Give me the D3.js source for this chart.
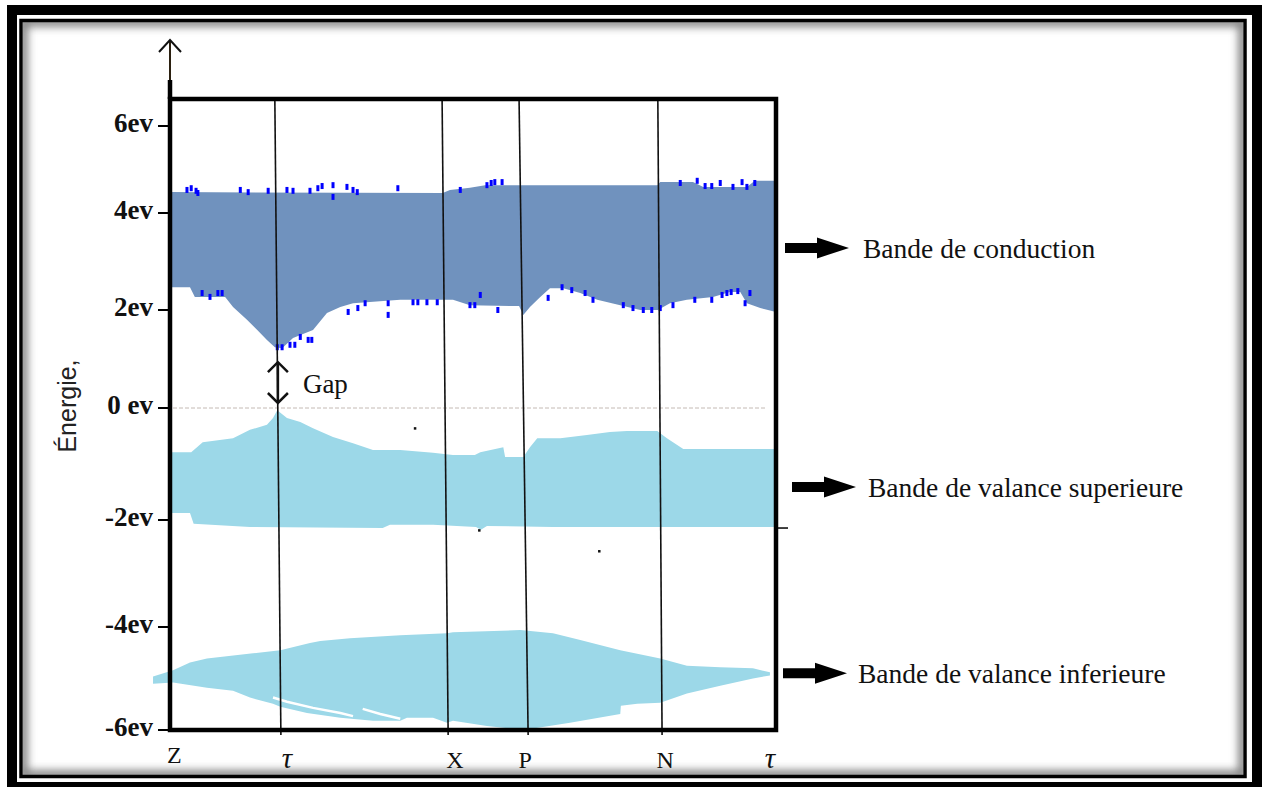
<!DOCTYPE html>
<html>
<head>
<meta charset="utf-8">
<script src="https://cdn.jsdelivr.net/npm/d3@7"></script>
<style>
  body { margin: 0; background: #fff; }
  svg { display: block; }
</style>
</head>
<body>
<svg id="chart"></svg>
<script>
// energy axis (eV)
const energyTicks = [-6, -4, -2, 0, 2, 4, 6]
const energyLabels = ['-6ev', '-4ev', '-2ev', '0 ev', '2ev', '4ev', '6ev']

// k path, 0..100, high symmetry points
const symLabels = ['Z', 'τ', 'X', 'P', 'N', 'τ']
const symLabelK = [0.7, 19.3, 47.0, 58.6, 81.7, 99.0]
const symLineTop = [17.3, 44.9, 57.6, 80.5]
const symLineBottom = [18.3, 45.9, 59.1, 81.2]

// conduction band edges [k, E]
const condTop = [
  [0, 4.48], [45.0, 4.46], [46.2, 4.53], [49.5, 4.58], [52.0, 4.64], [80.4, 4.64],
  [80.9, 4.71], [86.3, 4.71], [88.0, 4.60], [95.2, 4.60], [96.5, 4.74], [100, 4.74],
]
const condBottom = [
  [0, 2.47], [3.3, 2.47], [4.1, 2.27], [9.1, 2.27], [10.4, 2.06], [12.7, 1.80],
  [14.4, 1.59], [16.0, 1.39], [17.3, 1.24], [18.5, 1.22], [20.3, 1.43], [23.6, 1.59],
  [25.9, 1.94], [28.1, 2.06], [30.2, 2.14], [38.0, 2.21], [46.7, 2.21], [49.5, 2.10],
  [57.6, 2.08], [58.3, 1.90], [59.4, 2.06], [61.1, 2.27], [62.7, 2.45], [64.9, 2.45],
  [67.7, 2.35], [70.5, 2.21], [74.3, 2.10], [77.6, 2.00], [80.5, 2.00], [82.5, 2.14],
  [85.3, 2.21], [89.6, 2.27], [92.4, 2.37], [94.1, 2.37], [95.2, 2.14], [97.4, 2.04],
  [100, 1.96],
]

// upper valence band
const valUpTop = [
  [0, -0.79], [3.5, -0.79], [5.4, -0.61], [10.4, -0.54], [13.2, -0.39], [16.0, -0.30],
  [17.0, -0.18], [17.7, -0.04], [19.3, -0.18], [21.5, -0.25], [23.6, -0.36], [26.9, -0.52],
  [30.2, -0.63], [33.5, -0.75], [38.0, -0.75], [43.4, -0.80], [46.7, -0.84], [50.3, -0.84],
  [51.2, -0.79], [55.0, -0.70], [55.3, -0.875], [58.3, -0.875], [59.4, -0.70], [60.6, -0.54],
  [64.4, -0.54], [68.8, -0.48], [72.6, -0.43], [75.4, -0.41], [80.4, -0.41], [82.0, -0.54],
  [84.7, -0.73], [100, -0.73],
]
const valUpBottom = [
  [0, -1.875], [3.3, -1.875], [3.9, -2.07], [13.2, -2.13], [35.1, -2.15], [36.3, -2.09],
  [43.4, -2.09], [50.5, -2.13], [51.3, -2.18], [52.3, -2.11], [63.2, -2.13], [100, -2.13],
]

// lower valence band
const valLowTop = [
  [-2.8, -4.96], [0.5, -4.84], [3.3, -4.69], [6.1, -4.61], [13.7, -4.51], [18.2, -4.45],
  [23.1, -4.31], [24.8, -4.27], [29.7, -4.22], [38.0, -4.16], [45.7, -4.12], [46.7, -4.10],
  [57.8, -4.06], [63.2, -4.12], [67.7, -4.25], [74.3, -4.45], [80.9, -4.61], [85.3, -4.75],
  [90.8, -4.78], [96.2, -4.80], [99.0, -4.88],
]
const valLowBottom = [
  [-2.8, -5.10], [0.5, -5.08], [6.1, -5.18], [10.4, -5.24], [13.2, -5.37], [17.0, -5.49],
  [18.2, -5.55], [22.6, -5.67], [28.1, -5.76], [33.5, -5.82], [38.0, -5.82], [39.1, -5.76],
  [43.4, -5.76], [45.7, -5.86], [46.7, -5.82], [52.3, -5.92], [56.6, -5.98], [59.4, -5.98],
  [66.0, -5.86], [74.3, -5.69], [74.4, -5.53], [77.1, -5.49], [80.9, -5.47], [85.3, -5.29],
  [90.8, -5.14], [96.2, -5.00], [99.0, -4.94],
]
// white gaps inside the lower band
const valLowGaps = [
  [[17.0, -5.37], [19.3, -5.45], [23.6, -5.57], [28.1, -5.67], [30.2, -5.73]],
  [[31.8, -5.59], [34.7, -5.69], [38.0, -5.78]],
]

// blue computed points on the conduction band edges
const condDots = [
  [2.8, 4.53], [3.5, 4.57], [4.3, 4.51], [4.6, 4.46], [11.6, 4.53], [12.9, 4.48],
  [16.2, 4.51], [19.3, 4.53], [20.3, 4.51], [23.1, 4.51], [24.4, 4.57], [25.1, 4.62],
  [26.9, 4.64], [26.9, 4.37], [29.2, 4.60], [30.2, 4.53], [30.9, 4.48], [37.6, 4.57],
  [47.9, 4.53], [52.3, 4.64], [53.0, 4.69], [53.6, 4.71], [54.8, 4.71], [84.2, 4.69],
  [87.0, 4.74], [88.3, 4.62], [89.4, 4.62], [90.8, 4.69], [92.9, 4.60], [94.4, 4.71],
  [95.2, 4.60], [96.5, 4.69],
  [5.3, 2.35], [6.6, 2.27], [7.9, 2.35], [8.6, 2.35], [17.7, 1.24], [18.5, 1.24],
  [19.8, 1.29], [20.6, 1.29], [21.5, 1.45], [22.8, 1.39], [23.4, 1.39], [29.4, 1.96],
  [31.0, 2.04], [32.2, 2.14], [36.0, 2.14], [36.0, 1.90], [40.1, 2.16], [40.9, 2.16],
  [42.4, 2.16], [44.1, 2.16], [49.5, 2.10], [50.3, 2.10], [51.2, 2.31], [54.1, 2.00],
  [62.4, 2.25], [64.7, 2.47], [66.3, 2.41], [68.5, 2.35], [69.8, 2.21], [74.8, 2.10],
  [76.4, 2.04], [78.1, 2.00], [79.5, 2.00], [80.9, 2.04], [83.0, 2.10], [86.6, 2.21],
  [89.4, 2.21], [91.1, 2.31], [91.9, 2.35], [92.6, 2.37], [93.7, 2.39], [95.7, 2.35],
  [94.9, 2.14],
]
const strayDots = [[40.4, -0.36], [51.0, -2.19], [70.8, -2.58]]

const bandNames = ['Bande de conduction', 'Bande de valance superieure', 'Bande de valance inferieure']
const bandLabelE = [3.28, -1.41, -4.90]
const gapLabel = 'Gap'
const axisTitle = 'Énergie,'

const W = 1267, H = 787
const condColor = '#7092be'
const valColor = '#9cd8e8'

const svg = d3.select('#chart').attr('width', W).attr('height', H)

const x = d3.scaleLinear().domain([0, 100]).range([170, 776])
const y = d3.scaleLinear().domain(energyTicks).range([730, 627, 520, 408, 310, 213, 126])

// frame with inner shadow
const defs = svg.append('defs')
defs.append('clipPath').attr('id', 'panel-clip')
  .append('rect').attr('x', 23).attr('y', 22).attr('width', 1220).attr('height', 753)
defs.append('filter').attr('id', 'soft').attr('x', '-5%').attr('y', '-5%').attr('width', '110%').attr('height', '110%')
  .append('feGaussianBlur').attr('stdDeviation', 4)

svg.append('rect').attr('x', 12).attr('y', 10).attr('width', 1245).attr('height', 777)
  .attr('fill', 'none').attr('stroke', '#000').attr('stroke-width', 10)
svg.append('g').attr('clip-path', 'url(#panel-clip)')
  .append('rect').attr('x', 23).attr('y', 22).attr('width', 1220).attr('height', 753)
  .attr('fill', 'none').attr('stroke', '#7a7a7a').attr('stroke-width', 9)
  .attr('filter', 'url(#soft)')
svg.append('rect').attr('x', 21).attr('y', 20.5).attr('width', 1224).attr('height', 756)
  .attr('fill', 'none').attr('stroke', '#000').attr('stroke-width', 3.5)

const pt = ([k, e]) => [x(k), y(e)]
const bandPath = (top, bottom) =>
  d3.line()([...top.map(pt), ...bottom.slice().reverse().map(pt)]) + 'Z'

const plot = svg.append('g')

// bands
plot.append('path').attr('d', bandPath(condTop, condBottom)).attr('fill', condColor)
plot.append('path').attr('d', bandPath(valUpTop, valUpBottom)).attr('fill', valColor)
plot.append('path').attr('d', bandPath(valLowTop, valLowBottom)).attr('fill', valColor)

plot.selectAll('.gap-streak').data(valLowGaps).enter()
  .append('path')
  .attr('d', (d) => d3.line()(d.map(pt)))
  .attr('fill', 'none').attr('stroke', '#fff').attr('stroke-width', 2.5)

// blue points
plot.selectAll('.dot').data(condDots).enter()
  .append('rect')
  .attr('x', (d) => x(d[0]) - 1.5).attr('y', (d) => y(d[1]) - 3)
  .attr('width', 3).attr('height', 6)
  .attr('fill', '#0000ff')

plot.selectAll('.speck').data(strayDots).enter()
  .append('rect')
  .attr('x', (d) => x(d[0]) - 1).attr('y', (d) => y(d[1]) - 1)
  .attr('width', 2.5).attr('height', 2.5).attr('fill', '#111')

// fermi level
plot.append('line')
  .attr('x1', x(0) + 3).attr('x2', x(98.5))
  .attr('y1', y(0)).attr('y2', y(0))
  .attr('stroke', '#c4bab4').attr('stroke-width', 1).attr('stroke-dasharray', '4,2')

// high symmetry lines
plot.selectAll('.sym').data(symLineTop).enter()
  .append('line')
  .attr('x1', (d) => x(d)).attr('y1', y(6) - 27)
  .attr('x2', (d, i) => x(symLineBottom[i])).attr('y2', y(-6) + 5)
  .attr('stroke', '#111').attr('stroke-width', 1.6)

// plot box
plot.append('rect')
  .attr('x', x(0)).attr('y', y(6) - 27)
  .attr('width', x(100) - x(0)).attr('height', y(-6) - y(6) + 27)
  .attr('fill', 'none').attr('stroke', '#000').attr('stroke-width', 4.5)

// y axis extension and arrow
plot.append('line').attr('x1', x(0)).attr('x2', x(0))
  .attr('y1', y(6) - 46).attr('y2', y(6) - 27)
  .attr('stroke', '#000').attr('stroke-width', 4.5)
plot.append('line').attr('x1', x(0)).attr('x2', x(0))
  .attr('y1', y(6) - 86).attr('y2', y(6) - 46)
  .attr('stroke', '#2b2010').attr('stroke-width', 2)
plot.append('path')
  .attr('d', `M${x(0) - 11},${y(6) - 74}L${x(0)},${y(6) - 86}L${x(0) + 11},${y(6) - 74}`)
  .attr('fill', 'none').attr('stroke', '#111').attr('stroke-width', 2)

// ticks and labels
const ticks = plot.selectAll('.tick').data(energyTicks).enter().append('g')
  .attr('transform', (d) => `translate(0,${y(d)})`)
ticks.append('line').attr('x1', x(0) - 12).attr('x2', x(0))
  .attr('stroke', '#000').attr('stroke-width', 2)
ticks.append('text')
  .attr('x', x(0) - 17).attr('y', 6)
  .attr('text-anchor', 'end')
  .attr('font-family', '"Liberation Serif", "Times New Roman", serif')
  .attr('font-weight', 'bold').attr('font-size', 27)
  .attr('fill', '#111')
  .text((d, i) => energyLabels[i])

// small tick on the right border
plot.append('line').attr('x1', x(100)).attr('x2', x(100) + 12)
  .attr('y1', y(-2.15)).attr('y2', y(-2.15))
  .attr('stroke', '#000').attr('stroke-width', 1.5)

// k labels
plot.selectAll('.klabel').data(symLabels).enter()
  .append('text')
  .attr('x', (d, i) => x(symLabelK[i]))
  .attr('y', (d, i) => (i === 0 ? y(-6) + 33 : y(-6) + 38))
  .attr('text-anchor', 'middle')
  .attr('font-family', '"Liberation Serif", "Times New Roman", serif')
  .attr('font-size', (d) => (d === 'τ' ? 29 : 24))
  .attr('font-style', (d) => (d === 'τ' ? 'italic' : 'normal'))
  .attr('fill', '#111')
  .text((d) => d)

// axis title
svg.append('text')
  .attr('transform', `translate(76,${y(0) - 2}) rotate(-90)`)
  .attr('text-anchor', 'middle')
  .attr('font-family', '"Liberation Sans", Arial, sans-serif')
  .attr('font-size', 25)
  .attr('fill', '#222')
  .text(axisTitle)

// gap arrow
const gx = x(symLineBottom[0]) - 3
const gTop = y(d3.min(condBottom, (d) => d[1])) + 14
const gBot = y(0) - 5
plot.append('line').attr('x1', gx).attr('x2', gx).attr('y1', gTop).attr('y2', gBot)
  .attr('stroke', '#111').attr('stroke-width', 2.5)
plot.append('path')
  .attr('d', `M${gx - 10},${gTop + 10}L${gx},${gTop}L${gx + 10},${gTop + 10}M${gx - 10},${gBot - 10}L${gx},${gBot}L${gx + 10},${gBot - 10}`)
  .attr('fill', 'none').attr('stroke', '#111').attr('stroke-width', 2.5)
plot.append('text')
  .attr('x', gx + 25).attr('y', y(0) - 15)
  .attr('font-family', '"Liberation Serif", "Times New Roman", serif')
  .attr('font-size', 27).attr('fill', '#111')
  .text(gapLabel)

// band labels with block arrows
const arrowX = [785, 792, 783]
const labelX = [863, 868, 858]
const labels = svg.selectAll('.band-label').data(bandNames).enter().append('g')
  .attr('transform', (d, i) => `translate(${arrowX[i]},${y(bandLabelE[i])})`)
labels.append('path')
  .attr('d', 'M0,-5H32V-10.5L64,0L32,10.5V5H0Z')
  .attr('fill', '#000')
labels.append('text')
  .attr('x', (d, i) => labelX[i] - arrowX[i]).attr('y', 10)
  .attr('font-family', '"Liberation Serif", "Times New Roman", serif')
  .attr('font-size', 27.5).attr('fill', '#111')
  .text((d) => d)
</script>
</body>
</html>
